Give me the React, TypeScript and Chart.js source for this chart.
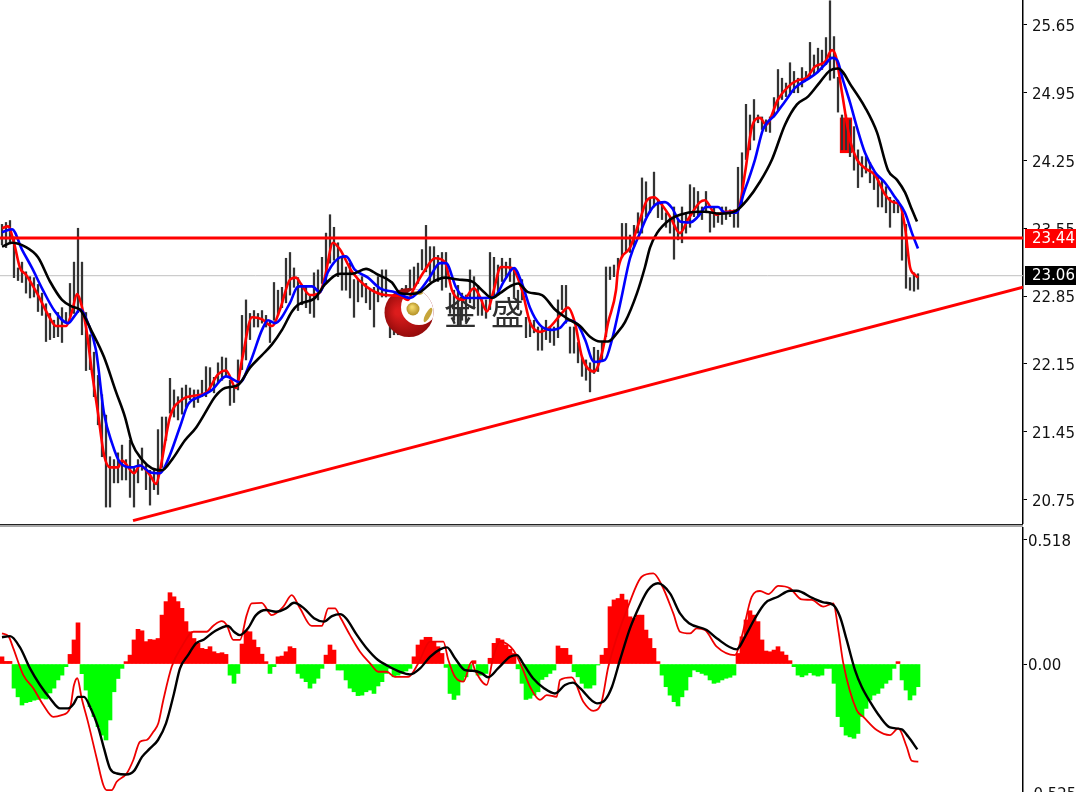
import React, { useEffect, useRef } from "react";
import { Chart, registerables } from "chart.js";

Chart.register(...registerables);

const priceTicks = [25.65, 24.95, 24.25, 23.55, 22.85, 22.15, 21.45, 20.75];
const macdTicks = [0.518, 0, -0.535];
const macdTickLabels = ["0.518", "0.00", "-0.525"];

const highs = [
  23.59,23.61,23.63,23.46,23.14,23.2,23.1,23.05,23.04,22.97,
  22.88,22.77,22.67,22.6,22.68,22.73,22.68,22.98,23.2,23.55,
  23.2,22.68,22.45,22.27,22.03,21.83,21.62,21.19,21.16,21.23,
  21.31,21.16,21.36,21.08,21.16,21.28,21.1,21.05,21.05,21.47,
  21.6,21.6,22.0,21.88,21.81,21.9,21.93,21.9,21.88,21.88,
  21.98,22.12,22.11,22.01,22.16,22.22,22.21,21.98,21.91,22.19,
  22.65,22.81,22.67,22.7,22.67,22.7,22.65,22.6,22.99,22.91,
  22.94,23.24,23.3,23.14,23.04,22.96,22.96,22.86,23.09,23.12,
  23.25,23.5,23.69,23.56,23.4,23.25,23.15,23.19,23.02,23.02,
  23.05,22.98,22.91,22.94,23.05,23.12,23.12,22.81,22.86,22.91,
  22.93,22.96,23.12,23.15,23.19,23.33,23.58,23.36,23.36,23.27,
  23.3,23.3,22.88,22.91,22.96,22.88,22.86,23.12,23.05,22.96,
  22.81,22.81,23.3,23.25,23.17,23.24,23.2,23.24,23.14,22.91,
  23.02,22.63,22.6,22.6,22.53,22.53,22.6,22.53,22.53,22.81,
  22.96,22.96,22.53,22.53,22.37,22.22,22.19,22.16,22.32,22.29,
  22.37,23.15,23.15,23.17,23.24,23.6,23.6,23.48,23.58,23.71,
  24.07,24.03,23.87,24.13,23.84,23.81,23.71,23.67,23.77,23.64,
  23.77,23.71,24.0,23.97,23.93,23.77,23.93,23.71,23.77,23.71,
  23.77,23.77,23.74,23.74,24.18,24.33,24.83,24.72,24.88,24.72,
  24.7,24.67,24.7,24.9,25.19,25.1,25.05,25.26,25.17,25.1,
  25.21,25.17,25.47,25.34,25.41,25.39,25.52,25.95,25.53,25.11,
  24.72,24.72,24.67,24.6,24.36,24.29,24.29,24.23,24.12,24.08,
  24.05,23.98,23.87,23.84,23.84,23.71,23.59,23.04,23.09,23.08,
];
const lows = [
  23.38,23.35,23.39,23.04,23.01,22.99,22.88,22.83,22.84,22.69,
  22.65,22.38,22.4,22.42,22.43,22.37,22.58,22.64,22.67,22.68,
  22.45,22.08,22.09,21.81,21.52,21.19,20.67,20.67,20.92,20.92,
  20.95,20.95,20.77,20.67,20.92,21.05,20.85,20.69,20.85,20.8,
  21.08,21.36,21.64,21.6,21.57,21.63,21.7,21.78,21.7,21.75,
  21.81,21.81,21.88,21.85,21.95,21.98,22.02,21.72,21.75,21.88,
  22.09,22.19,22.4,22.53,22.53,22.57,22.53,22.37,22.6,22.65,
  22.73,22.78,22.86,22.94,22.7,22.76,22.73,22.67,22.63,22.81,
  22.98,23.0,23.19,23.22,23.05,22.91,22.91,22.83,22.63,22.79,
  22.84,22.78,22.71,22.53,22.79,22.84,22.84,22.42,22.45,22.45,
  22.5,22.55,22.91,22.91,22.98,23.12,23.1,23.0,23.0,23.0,
  22.91,22.94,22.67,22.6,22.55,22.6,22.58,22.78,22.74,22.65,
  22.65,22.62,22.71,22.84,22.86,23.0,23.04,23.0,22.84,22.71,
  22.81,22.42,22.43,22.47,22.29,22.29,22.4,22.37,22.34,22.42,
  22.71,22.57,22.26,22.26,22.16,22.02,21.98,21.86,22.05,22.07,
  22.19,22.43,23.02,23.05,23.12,23.25,23.3,23.3,23.36,23.5,
  23.5,23.67,23.71,23.77,23.66,23.64,23.56,23.5,23.23,23.43,
  23.4,23.5,23.56,23.67,23.67,23.64,23.71,23.51,23.56,23.61,
  23.59,23.64,23.67,23.56,23.56,23.79,24.26,24.36,24.46,24.64,
  24.57,24.55,24.54,24.7,24.77,24.88,24.91,24.93,24.95,24.95,
  25.01,25.08,25.11,25.14,25.17,25.19,25.24,25.08,25.1,24.75,
  24.36,24.36,24.29,24.15,23.97,24.08,24.12,24.02,23.95,23.77,
  23.77,23.71,23.56,23.71,23.71,23.22,22.93,22.91,22.9,22.92,
];

const blockIdx = [210, 211, 212];
const blockHigh = [24.69, 24.69, 24.69];
const blockLow = [24.33, 24.33, 24.33];

const redIdx = [0,1.5,3,4.5,6,9,12,13.5,16,17.5,18.75,19.5,21,22.5,24,25.5,27,29,30,33,34.5,37,38.5,39.5,42,45,48,51,54,56,58.5,60,62.5,65,67.5,69.5,72,73.5,74.5,77,79.5,80.75,82.75,84.5,87.5,91,95.75,99.5,101.5,103,105.75,108.25,110.75,112.5,115.25,118,119.5,121.25,122.75,124.75,127.5,130,132,134.5,137,139.5,141.5,143.25,145,148,150,151.5,153.5,154,157,159.5,161.25,163,165,167,169.5,171.5,174.5,175.75,178.5,180.75,184,185.75,187.5,189.5,191,194,196.5,199,201,203.25,205.75,207.5,208.5,210,212,213.75,215.75,218.25,220.75,222.75,224.5,225.75,227,228.25,229];
const redVal = [23.55,23.57,23.4,23.14,23.07,22.86,22.62,22.54,22.54,22.69,22.87,22.81,22.53,22.06,21.64,21.21,21.08,21.08,21.15,21.02,21.1,21.0,20.91,21.05,21.6,21.78,21.82,21.85,22.04,22.08,21.9,22.19,22.63,22.61,22.54,22.71,23.02,23.04,22.99,22.86,22.89,23.05,23.4,23.33,23.1,22.95,22.86,22.85,22.81,22.93,23.12,23.24,23.2,22.91,22.81,22.93,22.84,22.69,22.88,23.15,23.14,22.91,22.58,22.48,22.53,22.65,22.73,22.57,22.22,22.07,22.26,22.57,22.91,23.12,23.35,23.64,23.84,23.87,23.79,23.67,23.5,23.64,23.82,23.84,23.69,23.72,23.74,24.12,24.6,24.69,24.62,24.88,25.01,25.08,25.1,25.22,25.27,25.39,25.32,24.95,24.46,24.26,24.17,24.1,23.9,23.82,23.79,23.56,23.15,23.07,23.04];

const blueIdx = [0,2.5,5,7.5,10,13.25,16.5,18.25,19.5,21.5,23.5,25.5,27.5,29.5,32.5,34.5,37,39.5,41.5,44.5,46.5,49.5,52.5,56,59.5,62,65,66.5,68.25,72,73.75,74.5,77.5,79.5,81.5,84.5,86,88.25,91.5,94.5,98.25,102,104.5,107,109.5,111,113.5,115.75,120,123,125.75,128,130,132,134.5,137.5,139.5,141.5,144,145.75,148,150.75,152.5,154.75,157,159.5,161.25,163.25,165.75,167.5,169.5,172,174,176,179,180.75,183.5,185.75,188.25,190.25,193.25,195.75,198.25,201,203.25,205.75,207.5,208.75,210.25,212,213.75,215.75,218.25,220.75,223.25,225.75,227.5,229];
const blueVal = [23.51,23.54,23.33,23.14,22.93,22.69,22.57,22.65,22.71,22.57,22.29,21.64,21.33,21.13,21.08,21.1,21.03,21.02,21.16,21.5,21.73,21.81,21.88,22.02,21.96,22.16,22.5,22.6,22.57,22.78,22.94,22.95,22.95,22.89,23.1,23.25,23.26,23.12,23.04,22.93,22.89,22.83,22.91,23.05,23.19,23.19,22.94,22.83,22.83,22.84,23.02,23.14,22.98,22.73,22.55,22.5,22.52,22.6,22.55,22.4,22.17,22.19,22.4,22.81,23.24,23.5,23.67,23.79,23.82,23.76,23.62,23.61,23.67,23.77,23.77,23.71,23.71,23.95,24.26,24.57,24.72,24.86,25.0,25.08,25.14,25.24,25.31,25.29,25.08,24.85,24.59,24.33,24.13,24.02,23.87,23.71,23.5,23.34];

const blackIdx = [0,2.5,5.75,9,12,15,17.5,19.5,22.5,25.5,28.5,30.75,32.5,35,37.5,40,42.5,45.75,48.5,50.75,53.25,55.75,59,62,65,67.5,70,72.5,74,78.25,80.75,84.5,87.5,91,94,97.5,99.5,102,104.5,107.5,110.75,114,117.5,120,122.5,124.5,127,129,131.5,135,138.25,141.25,144.5,147,149.5,151.5,154,155.75,158.75,160.75,162,163.75,167,169.5,173.75,175.75,179.5,183.5,186.25,189.5,192.5,195.75,198.75,201.5,204.5,207,209,212.5,215.75,218.75,221.5,223.75,225.75,227.5,228.75];
const blackVal = [23.36,23.4,23.36,23.25,23.0,22.81,22.74,22.71,22.48,22.22,21.86,21.6,21.33,21.16,21.07,21.05,21.16,21.36,21.49,21.64,21.81,21.9,21.93,22.11,22.24,22.35,22.5,22.69,22.76,22.83,22.97,23.08,23.08,23.13,23.07,22.99,22.88,22.87,22.89,22.99,23.04,23.02,23.0,22.91,22.83,22.88,22.95,22.98,22.89,22.86,22.71,22.62,22.54,22.43,22.38,22.38,22.48,22.58,22.88,23.15,23.35,23.5,23.64,23.69,23.72,23.72,23.7,23.73,23.84,24.03,24.26,24.62,24.83,24.91,25.06,25.18,25.2,25.01,24.8,24.54,24.15,24.05,23.92,23.74,23.62];

const resistanceLevel = 23.45;
const resistanceTag = 23.44;
const lastPrice = 23.06;
const trendIdx = [32.75, 255.25];
const trendVal = [20.53, 22.94];

const macdHist = [
  0.03,0.011,0.011,-0.1,-0.136,-0.17,-0.16,-0.156,-0.15,-0.147,
  -0.142,-0.145,-0.12,-0.1,-0.066,-0.046,-0.011,0.04,0.1,0.171,
  -0.04,-0.108,-0.177,-0.218,-0.26,-0.295,-0.315,-0.232,-0.115,-0.06,
  -0.018,0.01,0.037,0.1,0.144,0.138,0.093,0.102,0.1,0.106,
  0.203,0.259,0.296,0.279,0.259,0.231,0.176,0.134,0.106,0.086,
  0.065,0.061,0.072,0.051,0.044,0.047,0.04,-0.046,-0.08,-0.039,
  0.083,0.138,0.134,0.1,0.069,0.041,0.01,-0.039,-0.011,0.03,
  0.033,0.051,0.072,0.065,-0.039,-0.059,-0.073,-0.1,-0.08,-0.059,
  -0.018,0.037,0.079,0.058,-0.025,-0.025,-0.066,-0.1,-0.115,-0.131,
  -0.129,-0.115,-0.108,-0.122,-0.091,-0.073,-0.039,-0.018,-0.053,-0.046,
  -0.039,-0.029,-0.018,0.03,0.079,0.1,0.111,0.111,0.093,0.072,
  0.044,-0.014,-0.122,-0.147,-0.129,-0.073,-0.053,-0.025,0.014,-0.046,
  -0.046,-0.039,0.024,0.086,0.106,0.1,0.079,0.061,0.044,-0.02,
  -0.08,-0.147,-0.142,-0.129,-0.115,-0.064,-0.053,-0.039,-0.025,0.075,
  0.065,0.065,0.037,-0.032,-0.053,-0.08,-0.1,-0.1,-0.087,-0.004,
  0.037,0.065,0.238,0.266,0.272,0.29,0.266,0.196,0.19,0.203,
  0.203,0.141,0.106,0.065,0.01,-0.046,-0.094,-0.129,-0.156,-0.174,
  -0.136,-0.108,-0.053,-0.025,-0.032,-0.039,-0.046,-0.066,-0.08,-0.076,
  -0.066,-0.059,-0.055,-0.046,0.044,0.113,0.183,0.221,0.203,0.176,
  0.1,0.054,0.051,0.058,0.072,0.051,0.037,0.014,-0.011,-0.046,
  -0.053,-0.046,-0.036,-0.046,-0.05,-0.046,-0.018,-0.018,-0.08,-0.218,
  -0.26,-0.295,-0.302,-0.308,-0.288,-0.218,-0.184,-0.149,-0.129,-0.122,
  -0.1,-0.08,-0.066,-0.018,0.01,-0.066,-0.108,-0.149,-0.129,-0.094,
];

const signalIdx = [0,2,4.5,7,9.5,12,14.5,16.5,18,19,20.5,22,24,25.5,27,28.75,31,33,35,37,39,41,43,44.5,46.5,48.5,50.5,53,56.5,58,59.5,61.5,63.5,66,68.5,71,73,75.5,78,80.5,82.5,84.5,86,88.75,91,94,96.5,99.5,102,104.5,107,109.5,111.25,113.25,115.75,117.75,120,121.5,124,127,128.75,130.25,132.75,135.5,138.25,140.75,142.75,144.5,148.75,150.75,152.5,154.5,157,159.5,161.5,164,167,169.5,171.75,176.17,178.67,183.67,185.75,188.25,190.75,194,197,198.67,202.83,205.33,207.83,209.5,211.17,213.25,214.92,217,219.5,222,224.92,226.58,228.83];
const signalVal = [0.111,0.116,0.069,-0.018,-0.087,-0.142,-0.184,-0.184,-0.163,-0.136,-0.136,-0.177,-0.26,-0.35,-0.433,-0.454,-0.458,-0.443,-0.385,-0.35,-0.315,-0.246,-0.122,-0.018,0.037,0.086,0.102,0.134,0.158,0.134,0.12,0.148,0.203,0.224,0.217,0.231,0.254,0.231,0.19,0.176,0.199,0.207,0.19,0.12,0.069,0.017,-0.008,-0.032,-0.043,-0.018,0.03,0.061,0.069,0.024,-0.025,-0.028,-0.039,-0.055,-0.018,0.03,0.037,0.003,-0.059,-0.1,-0.122,-0.087,-0.077,-0.1,-0.163,-0.149,-0.094,0.017,0.148,0.245,0.307,0.335,0.293,0.21,0.169,0.141,0.107,0.061,0.113,0.19,0.252,0.279,0.304,0.304,0.272,0.256,0.245,0.196,0.1,-0.025,-0.094,-0.156,-0.219,-0.263,-0.271,-0.302,-0.354];

const macdIdx = [0,1.6,2.83,5.33,7.83,10.33,12.83,14.92,17,18,18.83,19.92,21.58,23.67,25.33,26.17,27.42,28.67,31.17,32.83,34.5,36.17,37.83,39.08,40.33,42.42,44.92,47.83,51.17,52.83,54.92,56.17,57.83,59.5,61.17,62.42,64.92,67.42,70.33,72.42,74.5,77.42,79.92,81.58,83.25,84.5,87,89.5,92,94.08,96.17,98.25,101.58,104.08,107,110.33,111.58,113.25,115.33,117.42,118.25,121.17,122.83,124.5,127.83,129.92,132,134.5,136.17,138.67,139.5,142.42,145.33,147.83,149.92,151.58,157,159.92,162.83,164.92,167.83,169.5,172,173.67,175.75,178.67,183.25,184.92,187.42,189.5,191.58,194.08,197,199.92,202.42,205.33,207.83,209.08,210.33,213.67,215.33,218.67,222,224.08,226.17,227.42,229.08];
const macdVal = [0.127,0.116,0.065,-0.046,-0.1,-0.17,-0.219,-0.212,-0.184,-0.087,-0.059,-0.142,-0.246,-0.391,-0.502,-0.523,-0.523,-0.488,-0.454,-0.398,-0.322,-0.315,-0.281,-0.246,-0.149,-0.011,0.072,0.134,0.134,0.159,0.178,0.162,0.1,0.1,0.203,0.252,0.254,0.203,0.238,0.286,0.231,0.158,0.158,0.231,0.231,0.196,0.12,0.051,0.003,-0.032,-0.032,-0.053,-0.053,0.003,0.093,0.093,0.017,-0.053,-0.073,0.01,-0.025,-0.086,0.03,0.093,0.058,-0.011,-0.094,-0.149,-0.129,-0.136,-0.066,-0.055,-0.156,-0.194,-0.156,-0.011,0.259,0.362,0.376,0.328,0.21,0.134,0.127,0.148,0.141,0.072,0.037,0.113,0.279,0.303,0.29,0.324,0.314,0.268,0.266,0.238,0.252,0.141,0.003,-0.191,-0.219,-0.274,-0.295,-0.267,-0.343,-0.401,-0.405];

const FONT = '15px "DejaVu Sans"';
const X_MIN = -0.5;
const X_MAX = 255.25;
const pts = (xs: number[], ys: number[]) => xs.map((x, i) => ({ x, y: ys[i] }));
const line = (data: any[], color: string, width: number, order: number, smooth = true) => ({
  type: "line" as const,
  data,
  borderColor: color,
  backgroundColor: color,
  borderWidth: width,
  pointRadius: 0,
  order,
  cubicInterpolationMode: smooth ? ("monotone" as const) : ("default" as const),
});

const axisOptions = (min: number, max: number, ticks: number[], padding: number, cb: (v: number) => string) => ({
  type: "linear" as const,
  position: "right" as const,
  min,
  max,
  afterBuildTicks: (s: any) => {
    s.ticks = ticks.map((value) => ({ value }));
  },
  afterFit: (s: any) => {
    s.width = 53;
    s.paddingTop = 0;
    s.paddingBottom = 0;
  },
  grid: { drawOnChartArea: false, drawTicks: true, tickLength: 4, color: "#000", tickWidth: 1 },
  border: { display: true, color: "#000", width: 1.5 },
  ticks: {
    autoSkip: false,
    padding,
    labelOffset: 2.5,
    color: "#111",
    font: { family: "DejaVu Sans", size: 15 },
    callback: (v: any) => cb(Number(v)),
  },
});

const xAxis = { type: "linear" as const, min: X_MIN, max: X_MAX, display: false, offset: false };

const watermark = {
  id: "watermark",
  afterDatasetDraw(chart: any, args: any) {
    if (args.index !== 0) return;
    const c = chart.ctx as CanvasRenderingContext2D;
    c.save();
    c.beginPath();
    c.arc(409, 312.5, 24.5, 0, Math.PI * 2);
    c.clip();
    const g = c.createRadialGradient(398, 312, 3, 409, 312, 27);
    g.addColorStop(0, "#dc1c1c");
    g.addColorStop(1, "#8f0a0a");
    c.fillStyle = g;
    c.fillRect(380, 285, 60, 60);
    c.fillStyle = "#fff";
    c.beginPath();
    c.arc(419, 307, 18, 0, Math.PI * 2);
    c.fill();
    c.restore();
    c.save();
    const b = c.createRadialGradient(412, 307, 1, 413, 309, 7);
    b.addColorStop(0, "#f2d86a");
    b.addColorStop(1, "#b08c22");
    c.fillStyle = b;
    c.beginPath();
    c.arc(413, 309, 6.5, 0, Math.PI * 2);
    c.fill();
    c.fillStyle = "#c6a53a";
    c.beginPath();
    c.ellipse(417, 293, 6, 2, 0, 0, Math.PI * 2);
    c.fill();
    c.beginPath();
    c.ellipse(428, 315, 2.5, 8, 0.5, 0, Math.PI * 2);
    c.fill();
    c.fillStyle = "#2e2e2e";
    c.font = '33px "Noto Sans CJK SC"';
    c.textBaseline = "middle";
    c.textAlign = "left";
    c.fillText("金", 444, 312);
    c.fillText("盛", 491, 312);
    c.restore();
  },
};

const priceTags = {
  id: "priceTags",
  afterDraw(chart: any) {
    const c = chart.ctx as CanvasRenderingContext2D;
    const y = chart.scales.y;
    const tags: [number, string][] = [
      [resistanceTag, "#ff0000"],
      [lastPrice, "#000000"],
    ];
    c.save();
    c.font = FONT;
    c.textBaseline = "middle";
    c.textAlign = "left";
    for (const [v, col] of tags) {
      const py = Math.round(y.getPixelForValue(v));
      c.fillStyle = col;
      c.fillRect(1025, py - 10, 51, 19);
      c.fillStyle = "#fff";
      c.fillText(v.toFixed(2), 1032, py);
    }
    c.restore();
  },
};

export default function App() {
  const top = useRef<HTMLCanvasElement>(null);
  const bottom = useRef<HTMLCanvasElement>(null);

  useEffect(() => {
    const wicks = highs.map((h, i) => ({ x: i, y: [lows[i], Math.min(h, 25.9)] }));
    const block = blockIdx.map((x, i) => ({ x, y: [blockLow[i], blockHigh[i]] }));
    const upper = new Chart(top.current!, {
      type: "bar",
      data: {
        datasets: [
          { type: "bar", data: wicks as any, backgroundColor: "#333333", barThickness: 1.6, grouped: false, order: 10 },
          { type: "bar", data: block as any, backgroundColor: "#ff0000", barThickness: 3.6, grouped: false, order: 11 },
          line(pts([X_MIN, X_MAX], [lastPrice, lastPrice]), "#c0c0c0", 1, 12, false),
          line(pts(redIdx, redVal), "#ff0000", 2.6, 5),
          line(pts(blueIdx, blueVal), "#0000ff", 2.6, 4),
          line(pts(blackIdx, blackVal), "#000000", 2.6, 3),
          line(pts([X_MIN, X_MAX], [resistanceLevel, resistanceLevel]), "#ff0000", 3, 2, false),
          line(pts(trendIdx, trendVal), "#ff0000", 3, 1, false),
        ] as any,
      },
      options: {
        responsive: false,
        animation: false,
        devicePixelRatio: 1,
        layout: { padding: 0 },
        plugins: { legend: { display: false }, tooltip: { enabled: false } },
        scales: {
          x: xAxis,
          y: axisOptions(20.495, 25.908, priceTicks, 5, (v) => v.toFixed(2)),
        },
      } as any,
      plugins: [watermark, priceTags],
    });

    const hist = macdHist.map((v, i) => ({ x: i, y: v }));
    const lower = new Chart(bottom.current!, {
      type: "bar",
      data: {
        datasets: [
          {
            type: "bar",
            data: hist as any,
            backgroundColor: macdHist.map((v) => (v >= 0 ? "#ff0000" : "#00ff00")),
            barThickness: 4,
            grouped: false,
            order: 3,
          },
          line(pts(macdIdx, macdVal), "#ee0000", 1.8, 2),
          line(pts(signalIdx, signalVal), "#000000", 2.4, 1),
        ] as any,
      },
      options: {
        responsive: false,
        animation: false,
        devicePixelRatio: 1,
        layout: { padding: 0 },
        plugins: { legend: { display: false }, tooltip: { enabled: false } },
        scales: {
          x: xAxis,
          y: axisOptions(-0.593, 0.5685, macdTicks, 1, (v) => macdTickLabels[macdTicks.indexOf(v)] ?? ""),
        },
      } as any,
    });
    return () => {
      upper.destroy();
      lower.destroy();
    };
  }, []);

  return (
    <div style={{ position: "fixed", left: 0, top: 0, width: 1076, height: 794, overflow: "hidden", background: "#fff" }}>
      <canvas ref={top} width={1076} height={524} style={{ position: "absolute", left: 0, top: 0 }} />
      <div style={{ position: "absolute", left: 0, top: 524, width: 1023, height: 3, background: "#a8a8a8", borderTop: "1px solid #222", boxSizing: "border-box" }} />
      <canvas ref={bottom} width={1076} height={280} style={{ position: "absolute", left: 0, top: 527 }} />
      <div style={{ position: "absolute", left: 0, top: 792, width: 1076, height: 2, background: "#fff" }} />
    </div>
  );
}
